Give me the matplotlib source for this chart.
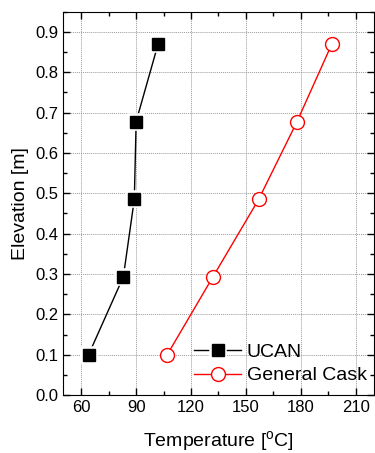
import matplotlib.pyplot as plt
from matplotlib.ticker import MultipleLocator

plt.rcParams['font.family'] = ['Liberation Sans', 'DejaVu Sans']
plt.rcParams['mathtext.default'] = 'regular'

elevation = [0.1, 0.293, 0.485, 0.678, 0.87]
ucan_temp = [64, 83, 89, 90, 102]
cask_temp = [107, 132, 157, 178, 197]

fig = plt.figure(figsize=(3.75, 4.53), dpi=100)
ax = fig.add_axes([0.168, 0.128, 0.829, 0.846])

# lines with small gaps around the markers (white halo under each marker)
l1, = ax.plot(ucan_temp, elevation, color='k', lw=1, zorder=2)
h1, = ax.plot(ucan_temp, elevation, ls='none', marker='s', ms=9,
              mfc='white', mec='white', mew=4, zorder=3)
m1, = ax.plot(ucan_temp, elevation, ls='none', marker='s', ms=9,
              mfc='k', mec='k', zorder=4)
l2, = ax.plot(cask_temp, elevation, color='r', lw=1, zorder=2)
m2, = ax.plot(cask_temp, elevation, ls='none', marker='o', ms=10,
              mfc='white', mec='r', mew=1, zorder=4)

ax.set_xlim(50, 220)
ax.set_ylim(0, 0.95)
ax.set_xticks([60, 90, 120, 150, 180, 210])
ax.xaxis.set_minor_locator(MultipleLocator(15))
ax.yaxis.set_major_locator(MultipleLocator(0.1))
ax.yaxis.set_minor_locator(MultipleLocator(0.05))
ax.tick_params(which='both', direction='in', top=True, right=True,
               labelsize=12, width=1)
ax.tick_params(which='major', length=5)
ax.tick_params(which='minor', length=3)
ax.grid(True, which='major', ls=(0, (1, 1)), color='#9a9a9a', lw=0.7)

ax.set_xlabel('Temperature [$^{o}$C]', fontsize=14, labelpad=10)
ax.set_ylabel('Elevation [m]', fontsize=14, labelpad=4)

ax.legend([(l1, h1, m1), (l2, m2)], ['UCAN', 'General Cask'],
          loc='lower right', bbox_to_anchor=(1.015, -0.003), frameon=False,
          fontsize=14, handlelength=2.4, handletextpad=0.3,
          labelspacing=0.3, borderaxespad=0.2)

fig.savefig('out.png', dpi=100)
